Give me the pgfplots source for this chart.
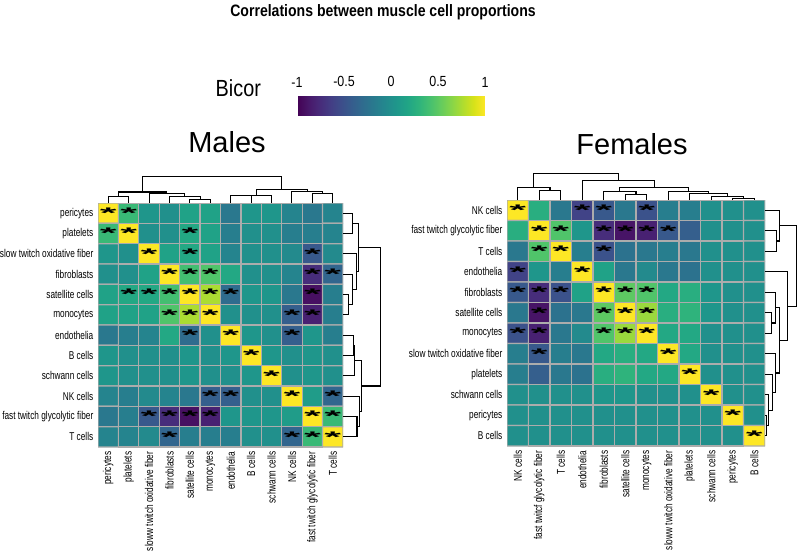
\documentclass[border=0pt]{standalone}
\usepackage{pgfplots}
\pgfplotsset{compat=1.18}
\usepackage{pgfplotstable}
\usepackage{fontspec}
\setmainfont{Liberation Sans}
\newfontfamily\condA{Liberation Sans}[FakeStretch=0.73]
\newfontfamily\condB{Liberation Sans}[FakeStretch=0.85]

% dendrogram segments: leaf position, merge height (root = 1)
\pgfplotstableread{
p h
4 0
4 0.14
5 0.14
5 0
nan nan
3 0
3 0.24
4.5 0.24
4.5 0.14
nan nan
0 0
0 0.25
1 0.25
1 0
nan nan
2 0
2 0.35
3.75 0.35
3.75 0.24
nan nan
0.5 0.25
0.5 0.42
2.875 0.42
2.875 0.35
nan nan
6 0
6 0.27
7 0.27
7 0
nan nan
6.5 0.27
6.5 0.30
8 0.30
8 0
nan nan
10 0
10 0.37
11 0.37
11 0
nan nan
9 0
9 0.44
10.5 0.44
10.5 0.37
nan nan
7.25 0.30
7.25 0.5
9.75 0.5
9.75 0.44
nan nan
1.6875 0.42
1.6875 1
8.5 1
8.5 0.5
}\maletree

\pgfplotstableread{
p h
1 0
1 0.35
2 0.35
2 0
nan nan
0 0
0 0.47
1.5 0.47
1.5 0.35
nan nan
5 0
5 0.21
6 0.21
6 0
nan nan
4 0
4 0.33
5.5 0.33
5.5 0.21
nan nan
10 0
10 0.05
11 0.05
11 0
nan nan
9 0
9 0.12
10.5 0.12
10.5 0.05
nan nan
8 0
8 0.25
9.75 0.25
9.75 0.12
nan nan
7 0
7 0.32
8.875 0.32
8.875 0.25
nan nan
4.75 0.33
4.75 0.47
7.9375 0.47
7.9375 0.32
nan nan
3 0
3 0.72
6.34375 0.72
6.34375 0.47
nan nan
0.75 0.47
0.75 1
4.671875 1
4.671875 0.72
}\femaletree

\pgfplotsset{
  heat/.style={
    scale only axis, enlargelimits=false,
    xmin=-0.5, xmax=11.5, ymin=-0.5, ymax=11.5, y dir=reverse,
    xtick={0,...,11}, ytick={0,...,11},
    major tick length=0pt, axis line style={draw=none},
    xticklabel style={rotate=90, anchor=east, font=\fontsize{8.5}{9}\condA},
    yticklabel style={font=\fontsize{8.5}{9}\condA},
    colormap name=viridis, point meta min=-1, point meta max=1,
  },
  hmcells/.style={matrix plot*, shader=faceted, faceted color=gray!65, draw=gray!65,
    line width=0.9pt, mesh/cols=12, point meta=explicit},
  hmstars/.style={only marks, mark=text, text mark={\scalebox{1.4}[0.5]{*}},
    text mark as node=true, mark options={black},
    text mark style={inner sep=0pt, font=\fontsize{23}{23}\selectfont\bfseries}},
  dendro/.style={hide axis, scale only axis, enlargelimits=false, clip=false},
  dtree/.style={black, line width=0.8pt, unbounded coords=jump},
}

\begin{document}
\begin{tikzpicture}
\path[use as bounding box] (0pt,0pt) rectangle (598.5pt,-413.25pt);

\node[anchor=base, font=\fontsize{12.4}{14}\condB\bfseries] at (287.25pt,-12.4pt)
  {Correlations between muscle cell proportions};
\node[anchor=base west, font=\fontsize{17.5}{20}\condB] at (158.25pt,-72.5pt) {Bicor};
\node[anchor=base, font=\fontsize{21.75}{24}\selectfont] at (170.25pt,-114pt) {Males};
\node[anchor=base, font=\fontsize{21.75}{24}\selectfont] at (474pt,-115.5pt) {Females};

% colour key
\begin{axis}[hide axis, scale only axis, width=141pt, height=17.25pt,
  at={(222.75pt,-78pt)}, anchor=south west, xmin=0, xmax=1, ymin=0, ymax=1,
  colormap name=viridis, point meta min=-1, point meta max=1,
  colorbar horizontal,
  colorbar style={at={(parent axis.south west)}, anchor=south west,
    width=141pt, height=17.25pt, xticklabel pos=upper,
    xtick={-1,-0.5,0,0.5,1}, xticklabels={-1,-0.5,0,0.5,1},
    major tick length=0pt, axis line style={draw=none},
    xticklabel style={font=\fontsize{11}{12}\condB, yshift=0.5pt}}]
\addplot[draw=none, forget plot] coordinates {(0,0) (1,1)};
\end{axis}

% ---------------- Males ----------------
\begin{axis}[heat, width=183.75pt, height=183pt,
  at={(73.5pt,-152.25pt)}, anchor=north west,
  xticklabels={pericytes, platelets, sloww twitch oxidative fiber, fibroblasts,
    satellite cells, monocytes, endothelia, B cells, schwann cells, NK cells,
    fast twitch glycolytic fiber, T cells},
  yticklabels={pericytes, platelets, slow twitch oxidative fiber, fibroblasts,
    satellite cells, monocytes, endothelia, B cells, schwann cells, NK cells,
    fast twitch glycolytic fiber, T cells}]
\addplot[hmcells] coordinates {
(0,0)[1] (1,0)[0.35] (2,0)[0.05] (3,0)[0] (4,0)[0.15] (5,0)[0.15] (6,0)[-0.2] (7,0)[0.05] (8,0)[0.05] (9,0)[-0.1] (10,0)[-0.2] (11,0)[-0.1]
(0,1)[0.35] (1,1)[1] (2,1)[0] (3,1)[0] (4,1)[0.2] (5,1)[0.15] (6,1)[-0.15] (7,1)[0] (8,1)[0] (9,1)[-0.15] (10,1)[-0.15] (11,1)[-0.1]
(0,2)[0.05] (1,2)[0] (2,2)[1] (3,2)[0.15] (4,2)[0.2] (5,2)[0.15] (6,2)[-0.1] (7,2)[0] (8,2)[0] (9,2)[-0.05] (10,2)[-0.45] (11,2)[-0.05]
(0,3)[0] (1,3)[0] (2,3)[0.15] (3,3)[1] (4,3)[0.4] (5,3)[0.45] (6,3)[0.2] (7,3)[0] (8,3)[0] (9,3)[-0.1] (10,3)[-0.75] (11,3)[-0.35]
(0,4)[0.15] (1,4)[0.2] (2,4)[0.2] (3,4)[0.4] (4,4)[1] (5,4)[0.75] (6,4)[-0.3] (7,4)[0.05] (8,4)[0.05] (9,4)[-0.2] (10,4)[-0.92] (11,4)[-0.15]
(0,5)[0.15] (1,5)[0.15] (2,5)[0.15] (3,5)[0.45] (4,5)[0.75] (5,5)[1] (6,5)[0] (7,5)[0] (8,5)[0] (9,5)[-0.4] (10,5)[-0.82] (11,5)[-0.15]
(0,6)[-0.2] (1,6)[-0.15] (2,6)[-0.1] (3,6)[0.2] (4,6)[-0.3] (5,6)[0] (6,6)[1] (7,6)[0.05] (8,6)[0] (9,6)[-0.4] (10,6)[0.05] (11,6)[-0.15]
(0,7)[0.05] (1,7)[0] (2,7)[0] (3,7)[0] (4,7)[0.05] (5,7)[0] (6,7)[0.05] (7,7)[1] (8,7)[0.05] (9,7)[0] (10,7)[0.05] (11,7)[0]
(0,8)[0.05] (1,8)[0] (2,8)[0] (3,8)[0] (4,8)[0.05] (5,8)[0] (6,8)[0] (7,8)[0.05] (8,8)[1] (9,8)[0] (10,8)[0.05] (11,8)[0]
(0,9)[-0.1] (1,9)[-0.15] (2,9)[-0.05] (3,9)[-0.1] (4,9)[-0.2] (5,9)[-0.4] (6,9)[-0.4] (7,9)[0] (8,9)[0] (9,9)[1] (10,9)[0.1] (11,9)[-0.35]
(0,10)[-0.2] (1,10)[-0.15] (2,10)[-0.45] (3,10)[-0.75] (4,10)[-0.92] (5,10)[-0.82] (6,10)[0.05] (7,10)[0.05] (8,10)[0.05] (9,10)[0.1] (10,10)[1] (11,10)[0.35]
(0,11)[-0.1] (1,11)[-0.1] (2,11)[-0.05] (3,11)[-0.35] (4,11)[-0.15] (5,11)[-0.15] (6,11)[-0.15] (7,11)[0] (8,11)[0] (9,11)[-0.35] (10,11)[0.35] (11,11)[1]
};
\addplot[hmstars] coordinates {
(0,0) (1,0) (0,1) (1,1) (4,1) (2,2) (4,2) (10,2)
(3,3) (4,3) (5,3) (10,3) (11,3)
(1,4) (2,4) (3,4) (4,4) (5,4) (6,4) (10,4)
(3,5) (4,5) (5,5) (9,5) (10,5)
(4,6) (6,6) (9,6) (7,7) (8,8)
(5,9) (6,9) (9,9) (11,9)
(2,10) (3,10) (4,10) (5,10) (10,10) (11,10)
(3,11) (9,11) (10,11) (11,11)
};
\end{axis}

\begin{axis}[dendro, width=183.75pt, height=19.7pt, at={(73.5pt,-152.25pt)},
  anchor=south west, xmin=-0.5, xmax=11.5, ymin=0, ymax=1]
\addplot[dtree] table[x=p, y=h] {\maletree};
\end{axis}
\begin{axis}[dendro, width=28.3pt, height=183pt, at={(257.25pt,-152.25pt)},
  anchor=north west, xmin=0, xmax=1, ymin=-0.5, ymax=11.5, y dir=reverse]
\addplot[dtree] table[x=h, y=p] {\maletree};
\end{axis}

% ---------------- Females ----------------
\begin{axis}[heat, width=193.5pt, height=184.5pt,
  at={(380.25pt,-150pt)}, anchor=north west,
  xticklabels={NK cells, fast twitcf glycolytic fiber, T cells, endothelia,
    fibroblasts, satellite cells, monocytes, sloww twitch oxidative fiber,
    platelets, schwann cells, pericytes, B cells},
  yticklabels={NK cells, fast twitch glycolytic fiber, T cells, endothelia,
    fibroblasts, satellite cells, monocytes, slow twitch oxidative fiber,
    platelets, schwann cells, pericytes, B cells}]
\addplot[hmcells] coordinates {
(0,0)[1] (1,0)[0.25] (2,0)[-0.2] (3,0)[-0.6] (4,0)[-0.45] (5,0)[-0.2] (6,0)[-0.5] (7,0)[-0.15] (8,0)[-0.15] (9,0)[0] (10,0)[0] (11,0)[0]
(0,1)[0.25] (1,1)[1] (2,1)[0.45] (3,1)[0.05] (4,1)[-0.75] (5,1)[-0.9] (6,1)[-0.82] (7,1)[-0.45] (8,1)[-0.4] (9,1)[0] (10,1)[0] (11,1)[0]
(0,2)[-0.2] (1,2)[0.45] (2,2)[1] (3,2)[-0.15] (4,2)[-0.5] (5,2)[-0.25] (6,2)[-0.2] (7,2)[-0.15] (8,2)[-0.2] (9,2)[0] (10,2)[0] (11,2)[0]
(0,3)[-0.6] (1,3)[0.05] (2,3)[-0.15] (3,3)[1] (4,3)[0.15] (5,3)[-0.2] (6,3)[-0.05] (7,3)[-0.2] (8,3)[-0.25] (9,3)[0] (10,3)[0] (11,3)[0]
(0,4)[-0.45] (1,4)[-0.75] (2,4)[-0.5] (3,4)[0.15] (4,4)[1] (5,4)[0.5] (6,4)[0.45] (7,4)[0.2] (8,4)[0.25] (9,4)[0.05] (10,4)[0] (11,4)[0]
(0,5)[-0.2] (1,5)[-0.9] (2,5)[-0.25] (3,5)[-0.2] (4,5)[0.5] (5,5)[1] (6,5)[0.7] (7,5)[0.25] (8,5)[0.3] (9,5)[0.05] (10,5)[0] (11,5)[0]
(0,6)[-0.5] (1,6)[-0.82] (2,6)[-0.2] (3,6)[-0.05] (4,6)[0.45] (5,6)[0.7] (6,6)[1] (7,6)[0.2] (8,6)[0.2] (9,6)[0] (10,6)[0] (11,6)[0]
(0,7)[-0.15] (1,7)[-0.45] (2,7)[-0.15] (3,7)[-0.2] (4,7)[0.2] (5,7)[0.25] (6,7)[0.2] (7,7)[1] (8,7)[0.2] (9,7)[0] (10,7)[0] (11,7)[0]
(0,8)[-0.15] (1,8)[-0.4] (2,8)[-0.2] (3,8)[-0.25] (4,8)[0.25] (5,8)[0.3] (6,8)[0.2] (7,8)[0.2] (8,8)[1] (9,8)[0] (10,8)[0] (11,8)[0]
(0,9)[0] (1,9)[0] (2,9)[0] (3,9)[0] (4,9)[0.05] (5,9)[0.05] (6,9)[0] (7,9)[0] (8,9)[0] (9,9)[1] (10,9)[0] (11,9)[0]
(0,10)[0] (1,10)[0] (2,10)[0] (3,10)[0] (4,10)[0] (5,10)[0] (6,10)[0] (7,10)[0] (8,10)[0] (9,10)[0] (10,10)[1] (11,10)[0]
(0,11)[0] (1,11)[0] (2,11)[0] (3,11)[0] (4,11)[0] (5,11)[0] (6,11)[0] (7,11)[0] (8,11)[0] (9,11)[0] (10,11)[0] (11,11)[1]
};
\addplot[hmstars] coordinates {
(0,0) (3,0) (4,0) (6,0)
(1,1) (2,1) (4,1) (5,1) (6,1) (7,1)
(1,2) (2,2) (4,2) (0,3) (3,3)
(0,4) (1,4) (2,4) (4,4) (5,4) (6,4)
(1,5) (4,5) (5,5) (6,5)
(0,6) (1,6) (4,6) (5,6) (6,6)
(1,7) (7,7) (8,8) (9,9) (10,10) (11,11)
};
\end{axis}

\begin{axis}[dendro, width=193.5pt, height=20pt, at={(380.25pt,-150pt)},
  anchor=south west, xmin=-0.5, xmax=11.5, ymin=0, ymax=1]
\addplot[dtree] table[x=p, y=h] {\femaletree};
\end{axis}
\begin{axis}[dendro, width=23.8pt, height=184.5pt, at={(573.75pt,-150pt)},
  anchor=north west, xmin=0, xmax=1, ymin=-0.5, ymax=11.5, y dir=reverse]
\addplot[dtree] table[x=h, y=p] {\femaletree};
\end{axis}
\end{tikzpicture}
\end{document}
